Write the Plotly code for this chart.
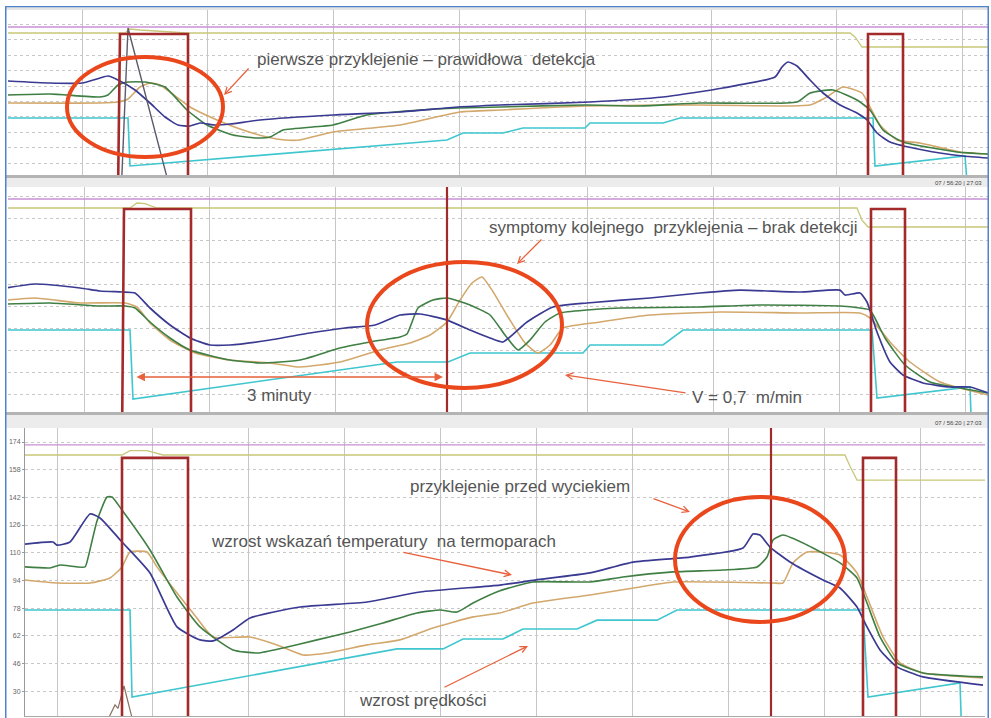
import plotly.graph_objects as go

W, H = 991, 718

# ---------------- Panel 1 (top) : time [min], signal [units] ----------------
p1_blue_t = [0.00,0.42,0.74,0.92,1.00,1.10,1.27,1.42,1.57,1.70,1.82,1.92,2.07,2.22,2.52,3.25,3.92,4.50,4.92,5.82,6.55,7.15,7.67,7.74,7.80,7.89,8.02,8.15,8.32,8.49,8.59,8.69,8.82,9.15,9.55,9.80]
p1_blue_v = [114,112,112,117,119,115,105,92,78,70,69,72,70,71,75,80,83,88,90,93,98,107,118,128,133,129,115,102,90,82,75,62,53,45,39,37]
p1_green_t = [0.00,0.42,0.92,1.00,1.10,1.20,1.37,1.57,1.79,1.99,2.25,2.47,2.62,2.75,3.25,3.59,4.12,4.50,4.92,5.77,6.32,6.92,7.89,8.02,8.25,8.49,8.62,8.75,8.95,9.49,9.80]
p1_green_v = [100,101,98,100,110,113,113,108,85,70,60,57,58,65,70,80,85,87,88,90,89,92,93,102,105,95,85,65,53,43,41]
p1_tan_t = [0.00,0.92,1.10,1.20,1.32,1.42,1.52,1.82,2.09,2.32,2.59,2.77,2.92,3.25,3.92,4.52,4.92,5.77,6.92,7.82,8.02,8.17,8.35,8.54,8.62,8.72,8.89,9.12,9.52,9.80]
p1_tan_v = [92,92,93,96,108,112,110,88,75,66,58,55,55,63,70,83,85,89,90,89,90,97,108,102,88,70,55,52,43,41]
p1_cyan_t = [0.00,1.20,1.22,4.39,4.55,4.95,5.15,5.77,5.82,6.55,6.72,8.65,8.67,9.57,9.60]
p1_cyan_v = [77,77,29,55,62,62,67,67,72,72,77,77,29,39,0]
p1_red_t = [0.00,1.10,1.12,1.80,1.80,8.60,8.60,8.95,8.95,9.80]
p1_red_v = [0,0,161,161,0,0,161,161,0,0]
p1_spike_t = [1.135,1.20,1.61]
p1_spike_v = [10,167,10]
p1_olive_t = [0.00,1.17,1.22,1.32,1.79,8.42,8.47,8.54,9.80]
p1_olive_v = [162,162,166,165,162,162,158,148,148]
p1_magenta_t = [0.00,9.80]
p1_magenta_v = [168,168]

# ---------------- Panel 2 (middle) ----------------
p2_blue_t = [0.00,0.27,0.72,0.92,1.14,1.27,1.42,1.62,1.82,2.02,2.22,2.62,3.02,3.37,3.67,3.92,4.12,4.39,4.62,4.82,4.95,5.19,5.45,5.79,6.42,6.92,7.32,7.92,8.32,8.37,8.52,8.59,8.69,8.82,8.95,9.15,9.42,9.62,9.80]
p2_blue_v = [107.7,110.3,107.5,105.4,104.7,104,93.5,81.6,72.5,67.6,67.6,71.1,76,79.5,81.6,88.6,89.3,85,78.1,72.5,69.7,83.7,94.2,97,100.5,104,106,104.7,106,102.6,104,97.7,76.7,55.7,46.6,41,38.2,38.2,34]
p2_green_t = [0.00,0.42,0.92,1.17,1.27,1.42,1.62,1.82,2.22,2.52,2.92,3.32,3.62,3.92,3.99,4.10,4.25,4.39,4.62,4.82,4.97,5.10,5.22,5.37,5.52,5.79,6.12,6.92,7.52,8.32,8.52,8.62,8.77,8.97,9.22,9.52,9.80]
p2_green_v = [96.3,97,94.9,94.9,93.5,83.7,72.5,64.1,57.1,55,57.1,65.5,69.7,73.2,75.3,93.5,99.1,100.5,95.6,88.6,74.6,64.1,71.1,83.7,90,92.1,93.5,94.2,95.6,94.9,93.5,92.1,72.5,53.6,41.7,37.5,34]
p2_tan_t = [0.00,0.27,0.72,1.17,1.29,1.42,1.62,1.87,2.22,2.62,2.92,3.32,3.72,4.02,4.22,4.39,4.52,4.64,4.74,4.84,5.02,5.17,5.30,5.42,5.55,5.92,6.42,7.12,7.92,8.52,8.62,8.82,9.02,9.32,9.80]
p2_tan_v = [99.1,100.5,97,97,94.2,83,71.1,62,57.1,55,52.2,55.7,64.1,69,74.6,83.7,99,111,115.2,106,85,69,62,67.6,79.5,83.7,88.6,90.7,90,90,86.5,69.7,55.7,41.7,32.6]
p2_cyan_t = [0.00,1.22,1.25,3.89,4.40,4.62,5.75,5.82,6.55,6.75,8.64,8.69,9.62,9.64]
p2_cyan_v = [78.1,78.1,29.8,55.7,55.7,62,62,67.6,67.6,78.1,78.1,30.5,38.2,0]
p2_red_t = [0.00,1.14,1.16,1.83,1.83,8.63,8.63,8.97,8.97,9.80]
p2_red_v = [0,0,162.8,162.8,0,0,162.8,162.8,0,0]
p2_cursor_t = [4.39,4.39]
p2_cursor_v = [0,200]
p2_olive_t = [0.00,1.22,1.29,1.37,1.49,8.49,8.54,8.60,9.80]
p2_olive_v = [163.5,163.5,167,166.5,163.5,163.5,155,150.2,150.2]
p2_magenta_t = [0.00,9.80]
p2_magenta_v = [169.8,169.8]

# ---------------- Panel 3 (bottom) ----------------
p3_blue_t = [0.00,0.28,0.32,0.45,0.65,0.75,0.97,1.25,1.52,1.75,1.88,2.08,2.25,2.75,3.42,3.95,4.75,5.10,5.65,6.08,6.65,7.18,7.28,7.35,7.45,7.65,7.98,8.15,8.32,8.42,8.55,8.72,8.98,9.58]
p3_blue_v = [115.0,116.2,114.4,116.2,132.4,130.1,116.2,98.3,67.1,59.6,59.0,65.3,72.3,78.6,81.5,87.3,91.3,94.2,98.3,104.6,107.5,112.7,120.8,120.2,113.3,104.6,94.2,89.6,78.6,67.1,53.8,44.0,38.2,33.5]
p3_green_t = [0.00,0.25,0.35,0.60,0.63,0.72,0.82,0.87,0.97,1.25,1.52,1.75,2.08,2.33,2.58,2.92,3.25,3.58,3.92,4.15,4.32,4.48,4.75,5.08,5.65,5.98,6.48,6.98,7.32,7.42,7.48,7.58,7.82,8.15,8.32,8.42,8.55,8.72,8.98,9.58]
p3_green_v = [101.8,101.2,102.9,101.8,107,128.4,142.2,142.2,134.7,111.6,84.4,67.1,53.8,52.0,54.9,59.6,64.2,69.4,75.2,76.9,75.7,80.9,88,93.1,93.1,96,98.9,100,101.8,107.5,117.4,120.2,114.5,104.1,95.4,80.9,61.3,46.3,40.5,38.2]
p3_tan_t = [0.00,0.32,0.65,0.85,0.97,1.05,1.22,1.32,1.52,1.68,1.88,2.25,2.52,2.78,3.02,3.42,3.75,4.08,4.48,4.75,5.08,5.65,6.15,6.48,7.48,7.58,7.68,7.82,8.15,8.32,8.42,8.58,8.75,8.98,9.58]
p3_tan_v = [94.2,92.5,92.5,95.4,101.8,110.4,110.4,101.8,86.7,75.2,61.3,61.3,56.7,50.9,52,56.7,59.6,66.5,72.9,75.2,80.9,85.6,90.2,93.1,92.5,92.5,104.1,110.4,108.7,98.3,84.4,61.3,46.3,40.5,37.6]
p3_cyan_t = [0.00,1.05,1.07,3.72,4.18,4.38,4.78,4.98,5.52,5.72,6.32,6.52,8.38,8.43,9.35,9.37]
p3_cyan_v = [76.9,76.9,26.6,54.4,54.4,60.1,60.1,65.9,65.9,71,71,76.9,76.9,26.6,34.7,0]
p3_red_t = [0.00,0.97,0.97,1.63,1.63,8.38,8.38,8.71,8.71,9.60]
p3_red_v = [0,0,164.8,164.8,0,0,164.8,164.8,0,0]
p3_cursor_t = [7.46,7.46]
p3_cursor_v = [0,200]
p3_spike_t = [0.80,0.90,0.93,0.99,1.02,1.09]
p3_spike_v = [10,22,20,33,26,10]
p3_olive_t = [0.00,0.97,1.05,1.22,1.38,8.20,8.25,8.32,9.60]
p3_olive_v = [166.5,166.5,169,169,166.5,166.5,160,152,152]
p3_magenta_t = [0.00,9.60]
p3_magenta_v = [172.3,172.3]

p3_tick_vals = [30, 46, 62, 78, 94, 110, 126, 142, 158, 174]
p3_tick_text = ["30", "46", "62", "78", "94", "110", "126", "142", "158", "174"]

C = dict(blue="#3a3a92", green="#3f7f43", tan="#d3a86c", cyan="#3fc6cf",
         magenta="#c98fd6", olive="#c8c77a", red="#a32a2a", spike="#5b5b6b")
RING = "#ea481c"
ARROW = "#e8603c"
TXT = "#555555"
FONT = "Liberation Sans, Arial, sans-serif"

fig = go.Figure()


def line(t, v, color, width, ax, smooth=False):
    xa = "x" if ax == 1 else f"x{ax}"
    ya = "y" if ax == 1 else f"y{ax}"
    ln = dict(color=color, width=width)
    if smooth:
        ln.update(shape="spline", smoothing=0.5)
    fig.add_trace(go.Scatter(x=t, y=v, mode="lines", xaxis=xa, yaxis=ya, line=ln,
                             hoverinfo="skip", showlegend=False))


panels = {
    1: [(p1_magenta_t, p1_magenta_v, C["magenta"], 1.3, False), (p1_olive_t, p1_olive_v, C["olive"], 1.3, False),
        (p1_cyan_t, p1_cyan_v, C["cyan"], 1.6, False), (p1_tan_t, p1_tan_v, C["tan"], 1.6, True),
        (p1_green_t, p1_green_v, C["green"], 1.6, True), (p1_blue_t, p1_blue_v, C["blue"], 1.7, True),
        (p1_spike_t, p1_spike_v, C["spike"], 1.4, False), (p1_red_t, p1_red_v, C["red"], 2.6, False)],
    2: [(p2_magenta_t, p2_magenta_v, C["magenta"], 1.3, False), (p2_olive_t, p2_olive_v, C["olive"], 1.3, False),
        (p2_cyan_t, p2_cyan_v, C["cyan"], 1.6, False), (p2_tan_t, p2_tan_v, C["tan"], 1.6, True),
        (p2_green_t, p2_green_v, C["green"], 1.6, True), (p2_blue_t, p2_blue_v, C["blue"], 1.7, True),
        (p2_red_t, p2_red_v, C["red"], 2.6, False), (p2_cursor_t, p2_cursor_v, C["red"], 2.2, False)],
    3: [(p3_magenta_t, p3_magenta_v, C["magenta"], 1.3, False), (p3_olive_t, p3_olive_v, C["olive"], 1.3, False),
        (p3_cyan_t, p3_cyan_v, C["cyan"], 1.6, False), (p3_tan_t, p3_tan_v, C["tan"], 1.6, True),
        (p3_green_t, p3_green_v, C["green"], 1.6, True), (p3_blue_t, p3_blue_v, C["blue"], 1.7, True),
        (p3_spike_t, p3_spike_v, "#8a7060", 1.2, False), (p3_red_t, p3_red_v, C["red"], 2.6, False),
        (p3_cursor_t, p3_cursor_v, C["red"], 2.2, False)],
}
for ax, items in panels.items():
    for t, v, col, w, sm in items:
        line(t, v, col, w, ax, sm)


def fx(p):
    return p / W


def fy(p):
    return 1 - p / H


common_x = dict(showticklabels=False, ticks="", showgrid=True, gridcolor="#c6c6c6", gridwidth=1,
                tickmode="linear", zeroline=False, showline=False, fixedrange=True)
common_y = dict(showticklabels=False, ticks="", showgrid=True, gridcolor="#c8c8c8", gridwidth=1,
                griddash="dot", tickmode="linear", zeroline=False, showline=False, fixedrange=True)

fig.update_layout(
    width=W, height=H, margin=dict(l=0, r=0, t=0, b=0),
    paper_bgcolor="white", plot_bgcolor="white",
    xaxis=dict(domain=[fx(8), fx(988)], range=[0, 9.80], anchor="y", tick0=0.74, dtick=1.258, **common_x),
    yaxis=dict(domain=[fy(175), fy(10)], range=[20, 185], anchor="x", tick0=32, dtick=15.4, **common_y),
    xaxis2=dict(domain=[fx(8), fx(988)], range=[0, 9.80], anchor="y2", tick0=0.76, dtick=1.259, **common_x),
    yaxis2=dict(domain=[fy(412), fy(187)], range=[20.7, 178.2], anchor="x2", tick0=33.3, dtick=15.4, **common_y),
    xaxis3=dict(domain=[fx(25), fx(985)], range=[0, 9.60], anchor="y3", tick0=0.32, dtick=0.959,
                **{**common_x, "showline": True, "linecolor": "#a8a8a8"}),
    yaxis3=dict(domain=[fy(716), fy(428)], range=[15.6, 182.1], anchor="x3",
                **{**common_y, "tickmode": "array", "tickvals": p3_tick_vals, "ticktext": p3_tick_text,
                   "showticklabels": True, "tickfont": dict(size=7, color="#666666", family=FONT),
                   "showline": True, "linecolor": "#9a9a9a", "ticks": "outside", "ticklen": 2,
                   "tickcolor": "#9a9a9a"}),
)

shapes = []


def rect(x0, y0, x1, y1, color):
    shapes.append(dict(type="rect", xref="paper", yref="paper", x0=fx(x0), x1=fx(x1),
                       y0=fy(y1), y1=fy(y0), fillcolor=color, line=dict(width=0), layer="above"))


rect(6, 7, 988, 10, "#e4e4e4")
rect(6, 175, 988, 178, "#b4b4b4")
rect(6, 178, 988, 187, "#ececec")
rect(6, 412, 988, 415, "#b4b4b4")
rect(6, 415, 988, 428, "#ececec")
rect(5, 6, 6.5, 718, "#4f84cc")
rect(5, 6, 989, 7.3, "#4f84cc")
rect(987.5, 6, 989, 718, "#4f84cc")

# rings
shapes.append(dict(type="circle", xref="x", yref="y", x0=0.59, x1=2.15, y0=38, y1=138,
                   line=dict(color=RING, width=4)))
shapes.append(dict(type="circle", xref="x2", yref="y2", x0=3.59, x1=5.54, y0=37.5, y1=125.7,
                   line=dict(color=RING, width=4)))
shapes.append(dict(type="circle", xref="x3", yref="y3", x0=6.50, x1=8.20, y0=70.0, y1=142.2,
                   line=dict(color=RING, width=4)))
fig.update_layout(shapes=shapes)

ann = []


def label(text, x, y, ax, anchor="left", size=17):
    xr = "x" if ax == 1 else f"x{ax}"
    yr = "y" if ax == 1 else f"y{ax}"
    ann.append(dict(text=text, x=x, y=y, xref=xr, yref=yr, showarrow=False, xanchor=anchor,
                    yanchor="middle", font=dict(family=FONT, size=size, color=TXT)))


def arrow(hx, hy, tx, ty, ax, head=5, side="end", size=1.0):
    xr = "x" if ax == 1 else f"x{ax}"
    yr = "y" if ax == 1 else f"y{ax}"
    ann.append(dict(text="", x=hx, y=hy, ax=tx, ay=ty, xref=xr, yref=yr, axref=xr, ayref=yr,
                    showarrow=True, arrowhead=head, arrowside=side, arrowsize=size,
                    arrowwidth=1.3, arrowcolor=ARROW))


NB = "\u00a0"
label(f"pierwsze{NB}przyklejenie{NB}–{NB}prawidłowa{NB}{NB}detekcja", 2.47, 136, 1)
label(f"symptomy{NB}kolejnego{NB}{NB}przyklejenia{NB}–{NB}brak{NB}detekcji", 4.79, 150.2, 2)
label("3 minuty", 2.71, 32.6, 2, anchor="center")
label(f"V{NB}={NB}0,7{NB}{NB}m/min", 6.82, 31.2, 2)
label(f"przyklejenie{NB}przed{NB}wyciekiem", 3.83, 148, 3)
label(f"wzrost{NB}wskazań{NB}temperatury{NB}{NB}na{NB}termoparach", 1.84, 116.2, 3)
label(f"wzrost{NB}prędkości", 3.32, 24.3, 3)

arrow(2.16, 100, 2.42, 128, 1)
arrow(5.09, 124.3, 5.35, 142.5, 2)
arrow(4.35, 45.2, 1.27, 45.2, 2, head=2, side="end+start", size=1.3)
arrow(5.57, 46.6, 6.79, 34, 2)
arrow(6.65, 133.5, 6.27, 141.6, 3)
arrow(4.87, 97.1, 3.77, 110.4, 3)
arrow(5.03, 56.1, 4.18, 31.8, 3)

# header timestamps
for ypx in (183, 423):
    ann.append(dict(text="07 / 56:20 | 27:03", x=fx(984), y=fy(ypx), xref="paper", yref="paper",
                    showarrow=False, xanchor="right", yanchor="middle",
                    font=dict(family=FONT, size=6, color="#444444")))

fig.update_layout(annotations=ann)
fig.write_html("out.html", config={"displayModeBar": False},
               post_script="document.body.style.margin='0';document.body.style.overflow='hidden';")
